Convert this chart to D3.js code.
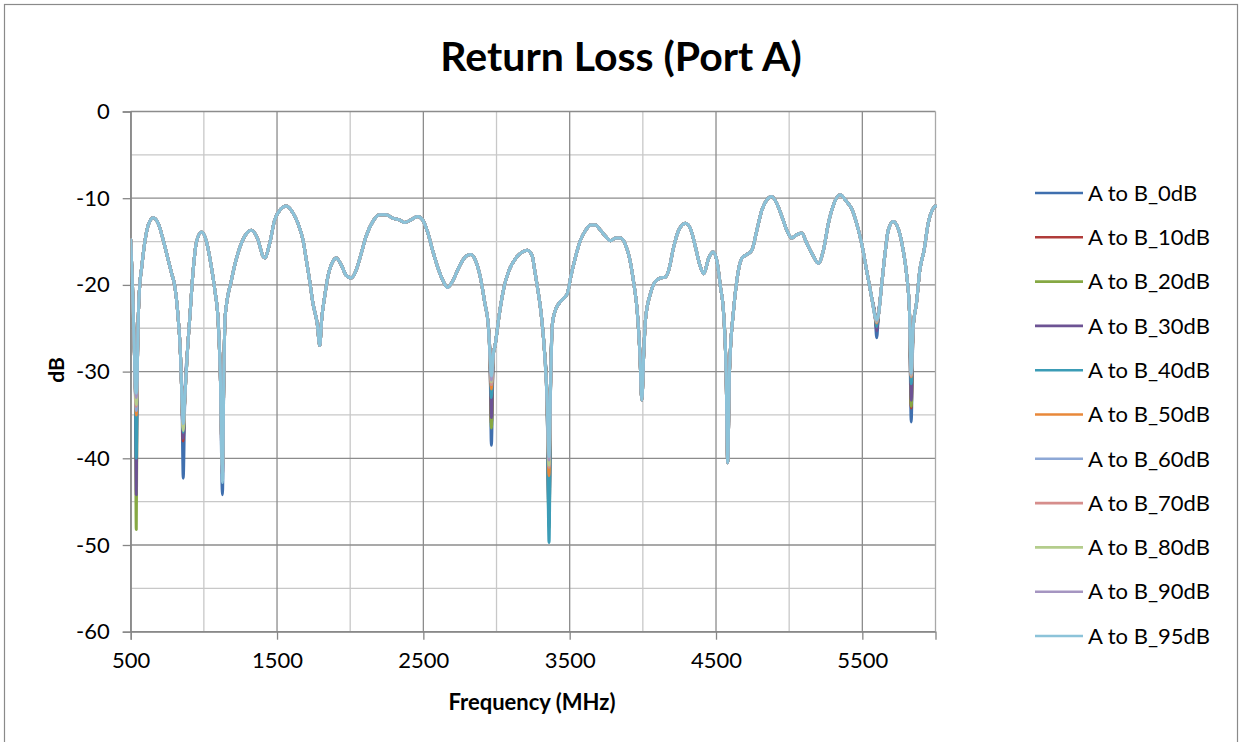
<!DOCTYPE html>
<html>
<head>
<meta charset="utf-8">
<script src="https://cdn.jsdelivr.net/npm/d3@7"></script>
<style>
  html, body { margin: 0; padding: 0; background: #ffffff; }
  svg { display: block; }
  text { font-family: Lato, "Liberation Sans", sans-serif; fill: #000; }
</style>
</head>
<body>
<svg id="chart" width="1243" height="742"></svg>
<script>
// ---------- DATA ----------
const seriesNames = ["A to B_0dB","A to B_10dB","A to B_20dB","A to B_30dB","A to B_40dB","A to B_50dB","A to B_60dB","A to B_70dB","A to B_80dB","A to B_90dB","A to B_95dB"];
const seriesColors = ["#3f6fae","#b03c3a","#86a843","#6d5394","#3b9cb6","#e8883a","#8da8d6","#d68e8c","#b4cd8c","#a595c1","#8cc3d9"];

// Common trace (MHz, dB); the deep notches differ per series
const freqMHz = [500,512,524,532,544,550,560,575,597,620,654,688,722,756,780,802,820,840,850,870,890,905,927,950,984,1018,1047,1075,1097,1112,1137,1145,1189,1234,1279,1325,1370,1404,1416,1450,1484,1518,1564,1609,1643,1677,1700,1722,1745,1775,1792,1805,1825,1847,1881,1905,1939,1973,2007,2041,2075,2109,2154,2200,2245,2290,2336,2370,2416,2461,2495,2529,2563,2597,2631,2665,2699,2745,2791,2825,2859,2893,2920,2943,2955,2978,2990,3018,3052,3086,3132,3177,3211,3245,3257,3279,3302,3325,3345,3370,3382,3395,3428,3462,3484,3507,3541,3575,3609,3643,3677,3711,3745,3780,3814,3848,3882,3916,3938,3961,3980,3993,4006,4018,4052,4086,4120,4154,4177,4211,4245,4291,4325,4359,4393,4416,4450,4479,4507,4530,4552,4569,4580,4592,4620,4643,4677,4711,4745,4779,4813,4847,4881,4915,4950,4984,5018,5052,5086,5120,5166,5200,5234,5268,5302,5348,5393,5427,5461,5495,5529,5563,5588,5610,5631,5655,5677,5711,5745,5779,5802,5822,5847,5870,5893,5922,5950,5984,6000];
const commonDB = [-14.8,-20,-27,-32,-31,-25,-20.5,-18,-15.0,-13.1,-12.25,-12.9,-14.8,-17.1,-18.7,-20.2,-22.9,-28,-33,-33,-27,-23.5,-18.3,-15.0,-13.9,-15.0,-17.5,-20.6,-24,-30,-30,-23.7,-19.4,-16.3,-14.4,-13.7,-14.8,-16.7,-16.9,-15.2,-12.5,-11.4,-10.9,-11.7,-12.9,-14.8,-17.1,-19.4,-22.1,-24.5,-27,-24,-21.4,-19.1,-17.3,-16.9,-17.7,-18.9,-19.2,-18.3,-16.4,-14.4,-12.7,-11.9,-11.9,-12.3,-12.5,-12.8,-12.5,-12.1,-12.5,-13.9,-16.0,-17.9,-19.4,-20.3,-19.6,-17.9,-16.7,-16.5,-17.3,-19.4,-22.1,-24.5,-28,-28,-27,-23.5,-20.2,-18.3,-16.9,-16.2,-16.0,-16.7,-17.9,-20.2,-22.9,-27,-33,-31,-24.5,-23.3,-22.1,-21.5,-21,-19.1,-16.7,-14.8,-13.7,-13.1,-13.1,-13.7,-14.4,-14.9,-14.6,-14.6,-15.4,-17.5,-19.8,-22.9,-28,-33.3,-28,-24,-21,-19.6,-19.2,-19.1,-18.3,-15.6,-13.7,-12.9,-13.5,-15.6,-17.9,-18.7,-16.9,-16.2,-17.3,-20.2,-23.3,-30,-40.5,-30,-22.9,-19.4,-16.9,-16.5,-16.0,-13.7,-11.4,-10.2,-9.8,-10.6,-12.1,-13.7,-14.6,-14.2,-14.0,-15.2,-16.7,-17.5,-16.0,-12.9,-10.8,-9.6,-10.4,-11.2,-12.9,-15.2,-18.3,-21.4,-23.7,-23.5,-20.2,-16.4,-13.7,-12.7,-13.5,-16.0,-18.7,-23,-25,-22.1,-18.3,-16.0,-12.9,-11.2,-10.9];

// Notch frequencies and each series' notch depth (dB)
const notchMHz = [538, 859, 1127, 2965, 3359, 5598, 5834];
const notch0dB  = [-38,   -42.3, -44.2, -38.5, -47,   -26.1, -35.8];
const notch10dB = [-36,   -38,   -42,   -36,   -46,   -25,   -34.2];
const notch20dB = [-48.2, -37,   -41,   -36.5, -48,   -25,   -34];
const notch30dB = [-44.2, -37.7, -41,   -35.3, -47.5, -25.3, -33.3];
const notch40dB = [-40,   -37,   -39.5, -33,   -49.7, -24.8, -31.4];
const notch50dB = [-35,   -36.5, -41,   -32,   -42,   -24.4, -30.6];
const notch60dB = [-34.5, -36.5, -41,   -31.5, -41,   -24.3, -30.5];
const notch70dB = [-34,   -36.5, -41,   -31.5, -41,   -24.3, -30.5];
const notch80dB = [-33.8, -36.8, -41,   -31.2, -40.8, -24.2, -30.4];
const notch90dB = [-33,   -36,   -41.5, -31,   -40.2, -24.1, -30.3];
const notch95dB = [-32.5, -36,   -42.8, -30.5, -39.8, -24,   -30.2];
const notchBySeries = [notch0dB, notch10dB, notch20dB, notch30dB, notch40dB, notch50dB, notch60dB, notch70dB, notch80dB, notch90dB, notch95dB];

const xTickLabels = [500, 1500, 2500, 3500, 4500, 5500];
const yTickLabels = [0, -10, -20, -30, -40, -50, -60];
const xMinorGrid = [1000, 2000, 3000, 4000, 5000];
const yMinorGrid = [-5, -15, -25, -35, -45, -55];

// ---------- LAYOUT ----------
const svg = d3.select("#chart");
const L = 130.7, R = 935.5, T = 111.5, B = 631.7;
const x = d3.scaleLinear().domain([500, 6000]).range([L, R]);
const y = d3.scaleLinear().domain([-60, 0]).range([B, T]);
const FONT = "Lato, 'Liberation Sans', sans-serif";

// outer chart border
svg.append("rect").attr("x", 4.5).attr("y", 4.5).attr("width", 1233).attr("height", 800)
  .attr("fill", "none").attr("stroke", "#8a8a8a").attr("stroke-width", 1.2);

// title
svg.append("text").attr("x", 621).attr("y", 71).attr("text-anchor", "middle")
  .style("font-size", "41px").style("font-weight", "bold").text("Return Loss (Port A)");

// grid
const grid = svg.append("g");
grid.selectAll(".ymin").data(yMinorGrid).join("line")
  .attr("x1", L).attr("x2", R).attr("y1", d => y(d)).attr("y2", d => y(d))
  .attr("stroke", "#c8c8c8").attr("stroke-width", 1.3);
grid.selectAll(".xmin").data(xMinorGrid).join("line")
  .attr("y1", T).attr("y2", B).attr("x1", d => x(d)).attr("x2", d => x(d))
  .attr("stroke", "#c8c8c8").attr("stroke-width", 1.3);
grid.selectAll(".ymaj").data(yTickLabels).join("line")
  .attr("x1", L).attr("x2", R).attr("y1", d => y(d)).attr("y2", d => y(d))
  .attr("stroke", "#8c8c8c").attr("stroke-width", 1.3);
grid.selectAll(".xmaj").data(xTickLabels).join("line")
  .attr("y1", T).attr("y2", B).attr("x1", d => x(d)).attr("x2", d => x(d))
  .attr("stroke", "#8c8c8c").attr("stroke-width", 1.3);
// plot area right border
grid.append("line").attr("x1", R).attr("x2", R).attr("y1", T).attr("y2", B)
  .attr("stroke", "#a8a8a8").attr("stroke-width", 1.3);

// axes
const yAxis = svg.append("g").attr("transform", `translate(${L},0)`)
  .call(d3.axisLeft(y).tickValues(yTickLabels).tickSize(8).tickPadding(13).tickFormat(d => String(d)));
const xAxis = svg.append("g").attr("transform", `translate(0,${B})`)
  .call(d3.axisBottom(x).tickValues(xTickLabels).tickSize(8).tickPadding(13).tickFormat(d => String(d)));
[yAxis, xAxis].forEach(a => {
  a.select(".domain").attr("stroke", "#868686").attr("stroke-width", 1.3);
  a.selectAll(".tick line").attr("stroke", "#868686").attr("stroke-width", 1.3);
  a.selectAll(".tick text").style("font-size", "22px").style("font-family", FONT).attr("fill", "#000");
});

// axis titles
svg.append("text").attr("x", 532).attr("y", 710).attr("text-anchor", "middle")
  .style("font-size", "22px").style("font-weight", "bold").text("Frequency (MHz)");
svg.append("text").attr("transform", "translate(64,370) rotate(-90)").attr("text-anchor", "middle")
  .style("font-size", "21px").style("font-weight", "bold").text("dB");

// series data: common trace with each series' notch points merged in
const seriesData = seriesNames.map((name, i) => {
  const pts = freqMHz.map((f, k) => ({ f, v: commonDB[k] }));
  notchMHz.forEach((f, k) => pts.push({ f, v: notchBySeries[i][k] }));
  pts.sort((a, b) => a.f - b.f);
  return { name, color: seriesColors[i], pts };
});

const line = d3.line().x(d => x(d.f)).y(d => y(d.v)).curve(d3.curveMonotoneX);
svg.append("defs").append("clipPath").attr("id", "clip")
  .append("rect").attr("x", L).attr("y", T - 2).attr("width", R - L + 2).attr("height", B - T + 4);
svg.append("g").attr("clip-path", "url(#clip)")
  .selectAll("path").data(seriesData).join("path")
  .attr("d", d => line(d.pts))
  .attr("fill", "none").attr("stroke", d => d.color).attr("stroke-width", 3)
  .attr("stroke-linejoin", "round").attr("stroke-linecap", "round");

// legend
const leg = svg.append("g");
seriesData.forEach((s, i) => {
  const cy = 193 + i * 44.3;
  leg.append("line").attr("x1", 1035).attr("x2", 1083).attr("y1", cy).attr("y2", cy)
    .attr("stroke", s.color).attr("stroke-width", 2.6);
  leg.append("text").attr("x", 1088).attr("y", cy).attr("dy", "0.35em")
    .style("font-size", "22px").text(s.name);
});
</script>
</body>
</html>
